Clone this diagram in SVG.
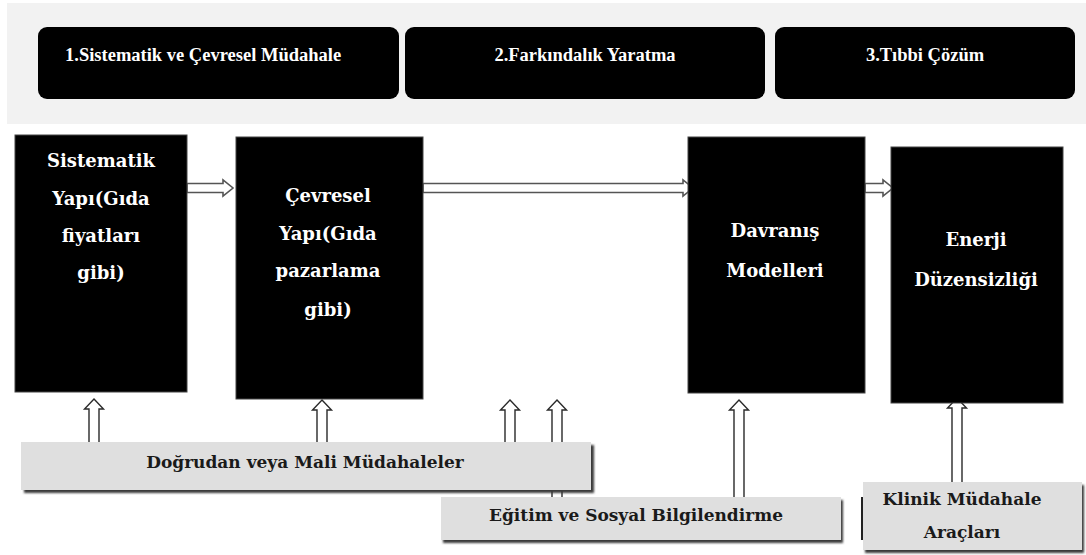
<svg xmlns="http://www.w3.org/2000/svg" width="1086" height="555" viewBox="0 0 1086 555">
<defs>
<filter id="blur" x="-5%" y="-20%" width="110%" height="140%"><feGaussianBlur stdDeviation="1"/></filter>
</defs>
<style>
.hdr{fill:#000;}
.hdrt{font-family:"Liberation Serif","Times New Roman",serif;font-weight:bold;font-size:18.5px;fill:#fff;}
.node{fill:#000;stroke:#444;stroke-width:1;}
.nodet{font-family:"DejaVu Serif",serif;font-weight:bold;font-size:18px;fill:#fff;text-anchor:middle;}
.bot{fill:#dfdfdf;}
.shadow{fill:#3a3a3a;filter:url(#blur);}
.bott{font-family:"DejaVu Serif",serif;font-weight:bold;font-size:17px;fill:#1a1a1a;text-anchor:middle;}
.arr{fill:#fff;stroke:#2a2a2a;stroke-width:1.4;stroke-linejoin:miter;}
.harr{fill:#fff;stroke:#555;stroke-width:1.6;}
</style>
<rect x="7" y="3" width="1079" height="121" fill="#f2f2f2"/>
<g id="header1"><rect class="hdr" x="38" y="27" width="361" height="72" rx="9"/><text class="hdrt" x="65" y="61">1.Sistematik ve Çevresel Müdahale</text></g>
<g id="header2"><rect class="hdr" x="405" y="27" width="360" height="72" rx="9"/><text class="hdrt" x="585" y="61" text-anchor="middle">2.Farkındalık Yaratma</text></g>
<g id="header3"><rect class="hdr" x="775" y="27" width="300" height="72" rx="9"/><text class="hdrt" x="925" y="61" text-anchor="middle">3.Tıbbi Çözüm</text></g>
<g id="connectors">
<path class="harr" d="M187,183.5 H223 V180 L233,188 L223,196 V192.5 H187 Z"/>
<path class="harr" d="M423,183.5 H683 V180 L693,188 L683,196 V192.5 H423 Z"/>
<path class="harr" d="M865,183.5 H883 V180 L893,188 L883,196 V192.5 H865 Z"/>
<path class="arr" d="M94,399 L103.5,409 L99,409 L99,443 L89,443 L89,409 L84.5,409 Z"/>
<path class="arr" d="M322,400 L331.5,410 L327,410 L327,443 L317,443 L317,410 L312.5,410 Z"/>
<path class="arr" d="M510,400 L519.5,410 L515,410 L515,443 L505,443 L505,410 L500.5,410 Z"/>
<path class="arr" d="M557,400 L566.5,410 L562,410 L562,498 L552,498 L552,410 L547.5,410 Z"/>
<path class="arr" d="M739,400 L748.5,410 L744,410 L744,498 L734,498 L734,410 L729.5,410 Z"/>
<path class="arr" d="M957,398 L966.5,408 L962,408 L962,483 L952,483 L952,408 L947.5,408 Z"/>
</g>
<g id="node-sistematik"><rect class="node" x="15" y="135" width="172" height="257"/>
<text class="nodet"><tspan x="101" y="167">Sistematik</tspan><tspan x="101" y="205">Yapı(Gıda</tspan><tspan x="101" y="242">fiyatları</tspan><tspan x="101" y="279">gibi)</tspan></text></g>
<g id="node-cevresel"><rect class="node" x="236" y="137" width="187" height="262"/>
<text class="nodet"><tspan x="328" y="202">Çevresel</tspan><tspan x="328" y="240">Yapı(Gıda</tspan><tspan x="328" y="277">pazarlama</tspan><tspan x="328" y="316">gibi)</tspan></text></g>
<g id="node-davranis"><rect class="node" x="688" y="137" width="177" height="256"/>
<text class="nodet"><tspan x="775" y="237">Davranış</tspan><tspan x="775" y="277">Modelleri</tspan></text></g>
<g id="node-enerji"><rect class="node" x="891" y="147" width="172" height="256"/>
<text class="nodet"><tspan x="976" y="246">Enerji</tspan><tspan x="976" y="286">Düzensizliği</tspan></text></g>
<g id="node-dogrudan"><rect class="shadow" x="24" y="445" width="570" height="48"/><rect class="bot" x="21" y="442" width="570" height="48"/>
<text class="bott" x="305" y="468">Doğrudan veya Mali Müdahaleler</text></g>
<g id="node-egitim"><rect class="shadow" x="443" y="500" width="400" height="43"/><rect class="bot" x="441" y="497" width="400" height="43"/>
<text class="bott" x="636" y="521">Eğitim ve Sosyal Bilgilendirme</text></g>
<g id="node-klinik"><rect class="shadow" x="865" y="485" width="219" height="68"/><rect class="bot" x="863" y="482" width="219" height="68"/>
<line x1="862" y1="497" x2="862" y2="540" stroke="#222" stroke-width="2"/>
<text class="bott"><tspan x="962" y="505">Klinik Müdahale</tspan><tspan x="962" y="538">Araçları</tspan></text></g>
</svg>
